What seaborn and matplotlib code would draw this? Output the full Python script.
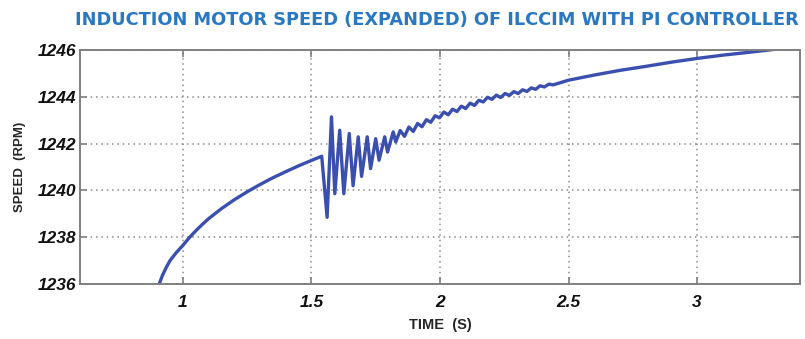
import matplotlib
matplotlib.use("Agg")
import matplotlib.pyplot as plt
import seaborn as sns
import pandas as pd

# Motor speed trace (time in s, speed in rpm)
rise_t = [0.895, 0.908, 0.92, 0.935, 0.95, 0.975, 1.0, 1.025, 1.05, 1.075, 1.1, 1.15,
          1.2, 1.25, 1.3, 1.35, 1.4, 1.45, 1.5, 1.54]
rise_v = [1235.7, 1236.0, 1236.35, 1236.7, 1237.0, 1237.35, 1237.65, 1237.98, 1238.27,
          1238.54, 1238.79, 1239.22, 1239.6, 1239.94, 1240.25, 1240.54, 1240.8, 1241.05,
          1241.28, 1241.46]

step_t = [1.561, 1.578, 1.591, 1.610, 1.626, 1.647, 1.662, 1.682, 1.695, 1.717, 1.730,
          1.750, 1.763, 1.785, 1.796, 1.818, 1.828]
step_v = [1238.85, 1243.14, 1239.86, 1242.57, 1239.86, 1242.43, 1240.2, 1242.29, 1240.6,
          1242.29, 1240.93, 1242.21, 1241.29, 1242.29, 1241.64, 1242.5, 1242.07]

ripple_t = [1.845, 1.862, 1.879, 1.896, 1.913, 1.930, 1.947, 1.964, 1.981, 1.998,
            2.015, 2.032, 2.049, 2.066, 2.083, 2.100, 2.117, 2.134, 2.151, 2.168,
            2.185, 2.202, 2.219, 2.236, 2.253, 2.270, 2.287, 2.304, 2.321, 2.338,
            2.355, 2.372, 2.389, 2.406, 2.423, 2.440]
ripple_v = [1242.56, 1242.31, 1242.71, 1242.52, 1242.86, 1242.72, 1243.02, 1242.91, 1243.19, 1243.10,
            1243.35, 1243.23, 1243.47, 1243.37, 1243.60, 1243.50, 1243.73, 1243.63, 1243.85, 1243.78,
            1243.98, 1243.89, 1244.07, 1243.97, 1244.14, 1244.06, 1244.22, 1244.14, 1244.30, 1244.23,
            1244.38, 1244.32, 1244.47, 1244.42, 1244.54, 1244.51]

tail_t = [2.5, 2.6, 2.7, 2.8, 2.9, 3.0, 3.1, 3.2, 3.28, 3.3]
tail_v = [1244.71, 1244.93, 1245.13, 1245.3, 1245.48, 1245.64, 1245.78, 1245.9, 1246.0, 1246.03]

x_ticks = [1, 1.5, 2, 2.5, 3]
x_tick_labels = ["1", "1.5", "2", "2.5", "3"]
y_ticks = [1236, 1238, 1240, 1242, 1244, 1246]
y_tick_labels = ["1236", "1238", "1240", "1242", "1244", "1246"]

df = pd.DataFrame({
    "time": rise_t + step_t + ripple_t + tail_t,
    "speed": rise_v + step_v + ripple_v + tail_v,
})

sns.set_style("white")
arial = ["Liberation Sans", "DejaVu Sans"]

fig = plt.figure(figsize=(8.05, 3.39), dpi=100)
ax = fig.add_axes([80 / 805, 1 - 284 / 339, 720 / 805, 234 / 339])

sns.lineplot(data=df, x="time", y="speed", ax=ax, color="#3B4FAF",
             linewidth=2.4, sort=False, estimator=None)

ax.set_xlim(0.6, 3.4)
ax.set_ylim(1236, 1246)
ax.set_xticks(x_ticks)
ax.set_xticklabels(x_tick_labels)
ax.set_yticks(y_ticks)
ax.set_yticklabels(y_tick_labels)

ax.grid(True, linestyle=(0, (1, 2.5)), color="#8a8a8a", linewidth=1.1)
for s in ax.spines.values():
    s.set_color("#808080")
    s.set_linewidth(1.4)
ax.tick_params(direction="in", length=5, width=1.2, color="#808080",
               top=True, right=True, bottom=True, left=True)
ax.tick_params(axis="y", pad=3)
ax.tick_params(axis="x", pad=8)
for lab in ax.get_xticklabels() + ax.get_yticklabels():
    lab.set_family(arial)
    lab.set_fontweight("bold")
    lab.set_fontstyle("italic")
    lab.set_fontsize(12.5)
    lab.set_color("#111111")

ax.set_xlabel("TIME  (S)", family=arial, fontweight="bold", fontsize=10.5, labelpad=6)
ax.set_ylabel("SPEED  (RPM)", family=arial, fontweight="bold", fontsize=9.5, labelpad=8)

fig.text(437 / 805, 1 - 20 / 339, "INDUCTION MOTOR SPEED (EXPANDED) OF ILCCIM WITH PI CONTROLLER",
         ha="center", va="center", fontsize=12.8, fontweight="bold",
         color="#2B78C2", family="DejaVu Sans")

fig.savefig("out.png", dpi=100)
